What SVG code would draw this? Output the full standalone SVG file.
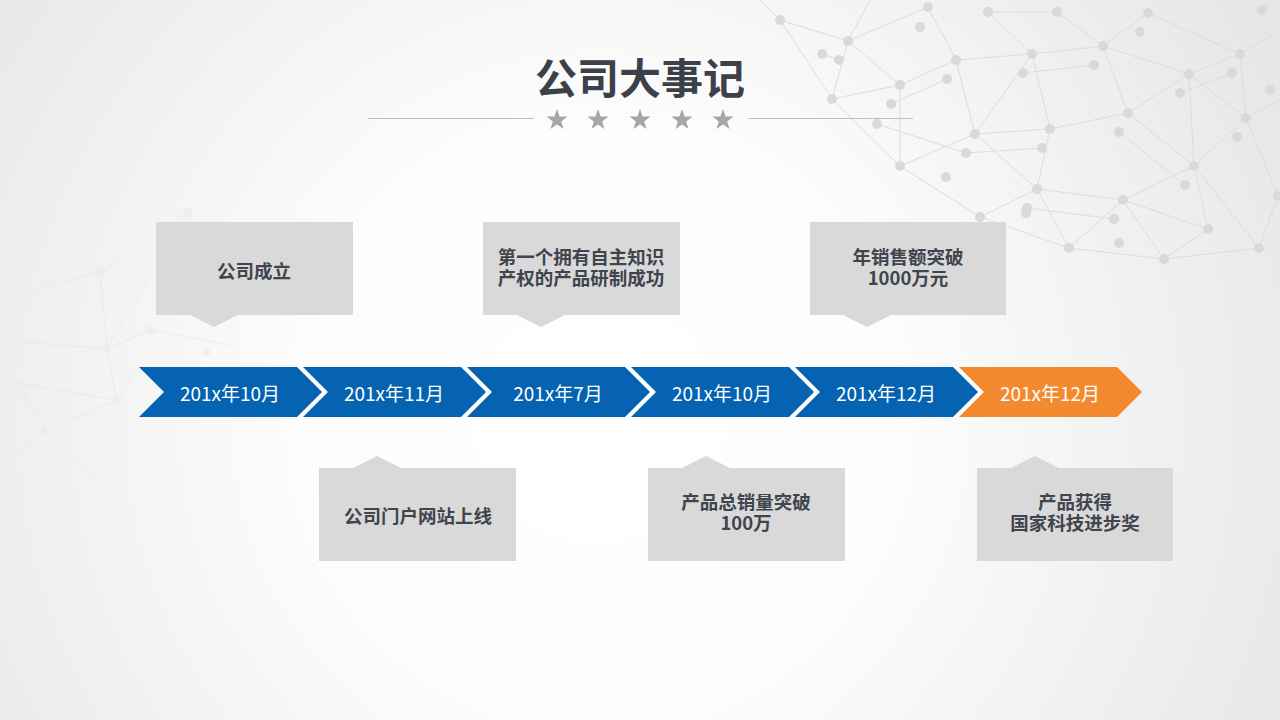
<svg xmlns="http://www.w3.org/2000/svg" width="1280" height="720" viewBox="0 0 1280 720">
<defs>
<radialGradient id="bg" cx="600" cy="420" r="820" gradientUnits="userSpaceOnUse">
<stop offset="0" stop-color="#ffffff"/>
<stop offset="0.35" stop-color="#fdfdfd"/>
<stop offset="1" stop-color="#e4e4e4"/>
</radialGradient>
<style>
.net line{stroke:#dcdcdc;stroke-width:1}
.net circle{fill:#d9d9d9}
.faint line{stroke:#e4e4e4;stroke-width:1}
.faint circle{fill:#e8e8e8}
.chev{fill:#0563b1}
.chev.last{fill:#f48a2f}
.clabel{font-family:"Noto Sans CJK SC","Noto Sans",sans-serif;font-size:19px;fill:#ffffff;text-anchor:middle;dominant-baseline:central}
.box{fill:#d9d9d9}
.btext{font-family:"Noto Sans CJK SC","Noto Sans",sans-serif;font-size:18.5px;font-weight:bold;fill:#3f444d;text-anchor:middle;dominant-baseline:central}
.star{fill:#a6a6a6}
</style>
<polygon id="star" points="0,-11 2.6,-3.6 10.5,-3.4 4.2,1.4 6.5,9 0,4.5 -6.5,9 -4.2,1.4 -10.5,-3.4 -2.6,-3.6"/>
</defs>
<rect x="0" y="0" width="1280" height="720" fill="url(#bg)"/>
<g id="background-network" class="net">
<line x1="780" y1="20" x2="848" y2="41"/><line x1="780" y1="20" x2="832" y2="99"/>
<line x1="848" y1="41" x2="900" y2="85"/><line x1="848" y1="41" x2="928" y2="7"/>
<line x1="848" y1="41" x2="832" y2="99"/><line x1="832" y1="99" x2="900" y2="85"/>
<line x1="832" y1="99" x2="900" y2="166"/><line x1="900" y1="85" x2="956" y2="60"/>
<line x1="900" y1="85" x2="900" y2="166"/><line x1="928" y1="7" x2="956" y2="60"/>
<line x1="956" y1="60" x2="1032" y2="54"/><line x1="956" y1="60" x2="975" y2="134"/>
<line x1="1032" y1="54" x2="988" y2="12"/><line x1="1032" y1="54" x2="1103" y2="46"/>
<line x1="1032" y1="54" x2="975" y2="134"/><line x1="1032" y1="54" x2="1050" y2="129"/>
<line x1="1103" y1="46" x2="1148" y2="13"/><line x1="1103" y1="46" x2="1189" y2="74"/>
<line x1="1103" y1="46" x2="1128" y2="113"/><line x1="1189" y1="74" x2="1240" y2="54"/>
<line x1="1189" y1="74" x2="1128" y2="113"/><line x1="1189" y1="74" x2="1246" y2="118"/>
<line x1="1189" y1="74" x2="1194" y2="166"/><line x1="1128" y1="113" x2="1050" y2="129"/>
<line x1="1128" y1="113" x2="1194" y2="166"/><line x1="975" y1="134" x2="1050" y2="129"/>
<line x1="975" y1="134" x2="900" y2="166"/><line x1="975" y1="134" x2="1037" y2="189"/>
<line x1="1050" y1="129" x2="1037" y2="189"/><line x1="900" y1="166" x2="980" y2="217"/>
<line x1="1037" y1="189" x2="980" y2="217"/><line x1="1037" y1="189" x2="1123" y2="200"/>
<line x1="1037" y1="189" x2="1069" y2="248"/><line x1="1194" y1="166" x2="1123" y2="200"/>
<line x1="1194" y1="166" x2="1246" y2="118"/><line x1="1194" y1="166" x2="1208" y2="229"/>
<line x1="1194" y1="166" x2="1259" y2="248"/><line x1="1123" y1="200" x2="1069" y2="248"/>
<line x1="1123" y1="200" x2="1164" y2="259"/><line x1="1123" y1="200" x2="1208" y2="229"/>
<line x1="980" y1="217" x2="1069" y2="248"/><line x1="1069" y1="248" x2="1164" y2="259"/>
<line x1="1164" y1="259" x2="1208" y2="229"/><line x1="1164" y1="259" x2="1259" y2="248"/>
<line x1="1259" y1="248" x2="1278" y2="196"/><line x1="1246" y1="118" x2="1278" y2="196"/>
<line x1="988" y1="12" x2="1057" y2="12"/><line x1="1057" y1="12" x2="1103" y2="46"/>
<line x1="1148" y1="13" x2="1240" y2="54"/><line x1="1240" y1="54" x2="1246" y2="118"/>
<line x1="1240" y1="54" x2="1280" y2="30"/><line x1="1246" y1="118" x2="1280" y2="100"/>
<line x1="780" y1="20" x2="760" y2="0"/><line x1="848" y1="41" x2="870" y2="0"/>
<line x1="822" y1="54" x2="839" y2="60"/><line x1="891" y1="104" x2="947" y2="79"/>
<line x1="877" y1="124" x2="966" y2="153"/><line x1="966" y1="153" x2="1042" y2="148"/>
<line x1="1027" y1="208" x2="1114" y2="219"/><line x1="1119" y1="132" x2="1185" y2="185"/>
<line x1="1023" y1="73" x2="1094" y2="65"/><line x1="1180" y1="93" x2="1232" y2="73"/>
<circle cx="780" cy="20" r="5"/><circle cx="848" cy="41" r="5"/><circle cx="822" cy="54" r="5"/>
<circle cx="839" cy="60" r="5"/><circle cx="928" cy="7" r="5"/><circle cx="920" cy="27" r="5"/>
<circle cx="988" cy="12" r="5"/><circle cx="1057" cy="12" r="5"/><circle cx="1148" cy="13" r="5"/>
<circle cx="1140" cy="32" r="5"/><circle cx="900" cy="85" r="5"/><circle cx="891" cy="104" r="5"/>
<circle cx="832" cy="99" r="5"/><circle cx="877" cy="124" r="5"/><circle cx="956" cy="60" r="5"/>
<circle cx="947" cy="79" r="5"/><circle cx="1032" cy="54" r="5"/><circle cx="1023" cy="73" r="5"/>
<circle cx="1103" cy="46" r="5"/><circle cx="1094" cy="65" r="5"/><circle cx="1240" cy="54" r="5"/>
<circle cx="1232" cy="73" r="5"/><circle cx="1189" cy="74" r="5"/><circle cx="1180" cy="93" r="5"/>
<circle cx="1128" cy="113" r="5"/><circle cx="1119" cy="132" r="5"/><circle cx="1246" cy="118" r="5"/>
<circle cx="1237" cy="137" r="5"/><circle cx="975" cy="134" r="5"/><circle cx="966" cy="153" r="5"/>
<circle cx="1050" cy="129" r="5"/><circle cx="1042" cy="148" r="5"/><circle cx="900" cy="166" r="5"/>
<circle cx="946" cy="177" r="5"/><circle cx="1037" cy="189" r="5"/><circle cx="1027" cy="208" r="5"/>
<circle cx="1026" cy="213" r="5"/><circle cx="1194" cy="166" r="5"/><circle cx="1185" cy="185" r="5"/>
<circle cx="1123" cy="200" r="5"/><circle cx="1114" cy="219" r="5"/><circle cx="980" cy="217" r="5"/>
<circle cx="1069" cy="248" r="5"/><circle cx="1119" cy="243" r="5"/><circle cx="1164" cy="259" r="5"/>
<circle cx="1208" cy="229" r="5"/><circle cx="1259" cy="248" r="5"/><circle cx="1278" cy="196" r="5"/>
<circle cx="1262" cy="10" r="5"/><circle cx="1270" cy="90" r="5"/>
</g>
<g id="background-network-left" class="faint" opacity="0.5">
<line x1="0" y1="340" x2="107" y2="349"/><line x1="107" y1="349" x2="117" y2="400"/>
<line x1="18" y1="383" x2="117" y2="400"/><line x1="18" y1="383" x2="45" y2="430"/>
<line x1="45" y1="430" x2="117" y2="400"/><line x1="45" y1="430" x2="0" y2="470"/>
<line x1="117" y1="400" x2="139" y2="367"/><line x1="107" y1="349" x2="188" y2="213"/>
<line x1="100" y1="272" x2="188" y2="213"/><line x1="100" y1="272" x2="107" y2="349"/>
<line x1="100" y1="272" x2="0" y2="300"/><line x1="45" y1="430" x2="95" y2="480"/>
<line x1="150" y1="330" x2="230" y2="345"/><line x1="107" y1="349" x2="150" y2="330"/>
<circle cx="188" cy="213" r="5"/><circle cx="100" cy="272" r="6"/><circle cx="107" cy="349" r="4"/>
<circle cx="18" cy="383" r="4"/><circle cx="45" cy="430" r="4"/><circle cx="117" cy="400" r="4"/>
<circle cx="150" cy="330" r="4"/><circle cx="206" cy="352" r="4"/>
</g>
<g id="title">
<text x="640" y="75" font-family="'Noto Sans CJK SC','Noto Sans',sans-serif" font-size="42" font-weight="bold" fill="#3b4049" text-anchor="middle" dominant-baseline="central">公司大事记</text>
<line x1="368" y1="118.5" x2="534" y2="118.5" stroke="#bfbfbf" stroke-width="1"/>
<line x1="748" y1="118.5" x2="913" y2="118.5" stroke="#bfbfbf" stroke-width="1"/>
<use href="#star" class="star" x="557" y="120"/>
<use href="#star" class="star" x="598" y="120"/>
<use href="#star" class="star" x="640" y="120"/>
<use href="#star" class="star" x="682" y="120"/>
<use href="#star" class="star" x="723" y="120"/>
</g>
<g id="timeline">
<g id="step1"><polygon class="chev" points="139,367 297,367 322,392 297,417 139,417 164,392"/><text class="clabel" x="230" y="392">201x年10月</text></g>
<g id="step2"><polygon class="chev" points="303,367 461,367 486,392 461,417 303,417 328,392"/><text class="clabel" x="394" y="392">201x年11月</text></g>
<g id="step3"><polygon class="chev" points="467,367 625,367 650,392 625,417 467,417 492,392"/><text class="clabel" x="558" y="392">201x年7月</text></g>
<g id="step4"><polygon class="chev" points="631,367 789,367 814,392 789,417 631,417 656,392"/><text class="clabel" x="722" y="392">201x年10月</text></g>
<g id="step5"><polygon class="chev" points="795,367 953,367 978,392 953,417 795,417 820,392"/><text class="clabel" x="886" y="392">201x年12月</text></g>
<g id="step6"><polygon class="chev last" points="959,367 1117,367 1142,392 1117,417 959,417 984,392"/><text class="clabel" x="1050" y="392">201x年12月</text></g>
</g>
<g id="event1"><polygon class="box" points="156,222 353,222 353,315 238,315 214,327 190,315 156,315"/><text class="btext" x="254" y="269.5">公司成立</text></g>
<g id="event2"><polygon class="box" points="319,468 353,468 377,456 401,468 516,468 516,561 319,561"/><text class="btext" x="418" y="515">公司门户网站上线</text></g>
<g id="event3"><polygon class="box" points="483,222 680,222 680,315 565,315 541,327 517,315 483,315"/><text class="btext" x="581" y="255.5"><tspan x="581">第一个拥有自主知识</tspan><tspan x="581" dy="21.5">产权的产品研制成功</tspan></text></g>
<g id="event4"><polygon class="box" points="648,468 682,468 706,456 730,468 845,468 845,561 648,561"/><text class="btext" x="746" y="500.5"><tspan x="746">产品总销量突破</tspan><tspan x="746" dy="21.5">100万</tspan></text></g>
<g id="event5"><polygon class="box" points="810,222 1006,222 1006,315 891,315 867,327 843,315 810,315"/><text class="btext" x="908" y="255.5"><tspan x="908">年销售额突破</tspan><tspan x="908" dy="21.5">1000万元</tspan></text></g>
<g id="event6"><polygon class="box" points="977,468 1011,468 1035,456 1059,468 1173,468 1173,561 977,561"/><text class="btext" x="1075" y="500.5"><tspan x="1075">产品获得</tspan><tspan x="1075" dy="21.5">国家科技进步奖</tspan></text></g>
<g id="connectors"></g>
</svg>
